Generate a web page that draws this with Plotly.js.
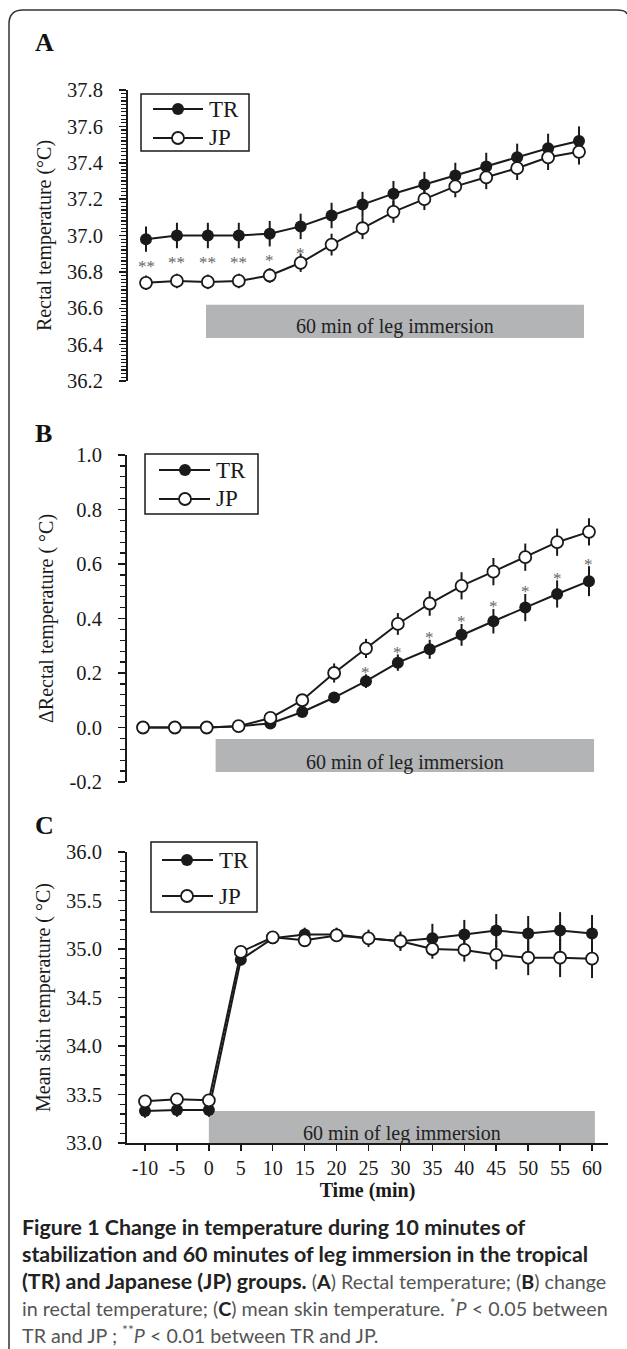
<!DOCTYPE html>
<html>
<head>
<meta charset="utf-8">
<script src="https://cdn.plot.ly/plotly-3.0.1.min.js"></script>
<style>
html,body{margin:0;padding:0;background:#fff;}
#chart{width:627px;height:1349px;}
</style>
</head>
<body>
<div id="chart"></div>
<script>
// ---------- data ----------
const time = [-10, -5, 0, 5, 10, 15, 20, 25, 30, 35, 40, 45, 50, 55, 60];
const seriesNames = ["TR", "JP"];

// Panel A: rectal temperature (°C)
const rectalTR    = [36.98, 37.00, 37.00, 37.00, 37.01, 37.05, 37.11, 37.17, 37.23, 37.28, 37.33, 37.38, 37.43, 37.48, 37.52];
const rectalTRse  = [0.07, 0.07, 0.07, 0.07, 0.07, 0.07, 0.07, 0.07, 0.07, 0.07, 0.07, 0.075, 0.075, 0.08, 0.08];
const rectalJP    = [36.74, 36.75, 36.745, 36.75, 36.78, 36.85, 36.95, 37.04, 37.13, 37.20, 37.27, 37.32, 37.37, 37.43, 37.46];
const rectalJPse  = [0.04, 0.04, 0.04, 0.04, 0.04, 0.05, 0.06, 0.06, 0.06, 0.06, 0.06, 0.065, 0.065, 0.07, 0.07];
const rectalSig   = ["**", "**", "**", "**", "*", "*", "", "", "", "", "", "", "", "", ""];

// Panel B: change in rectal temperature (°C)
const deltaTR     = [0, 0, 0, 0.005, 0.015, 0.057, 0.11, 0.17, 0.238, 0.287, 0.34, 0.39, 0.44, 0.49, 0.537];
const deltaTRse   = [0, 0, 0, 0.005, 0.01, 0.015, 0.02, 0.025, 0.03, 0.035, 0.04, 0.045, 0.05, 0.05, 0.055];
const deltaJP     = [0, 0, 0, 0.005, 0.035, 0.10, 0.20, 0.29, 0.38, 0.455, 0.52, 0.572, 0.625, 0.68, 0.718];
const deltaJPse   = [0, 0, 0, 0.005, 0.01, 0.02, 0.035, 0.035, 0.04, 0.045, 0.05, 0.05, 0.05, 0.05, 0.05];
const deltaSig    = ["", "", "", "", "", "", "", "*", "*", "*", "*", "*", "*", "*", "*"];

// Panel C: mean skin temperature (°C)
const skinTR      = [33.33, 33.34, 33.34, 34.89, 35.11, 35.15, 35.15, 35.11, 35.08, 35.11, 35.15, 35.19, 35.16, 35.19, 35.16];
const skinTRse    = [0.07, 0.07, 0.07, 0.06, 0.05, 0.07, 0.07, 0.09, 0.10, 0.15, 0.15, 0.17, 0.18, 0.19, 0.19];
const skinJP      = [33.43, 33.45, 33.44, 34.97, 35.12, 35.09, 35.14, 35.11, 35.08, 35.00, 34.99, 34.94, 34.91, 34.91, 34.90];
const skinJPse    = [0.05, 0.05, 0.05, 0.05, 0.05, 0.06, 0.06, 0.07, 0.08, 0.10, 0.12, 0.15, 0.18, 0.20, 0.20];

// immersion period
const immersionLabel = "60 min of leg immersion";
const immersionA = [-0.3, 60.8];
const immersionB = [1.4, 60.8];
const immersionC = [0, 60.45];

// tick labels
const tickA = ["36.2", "36.4", "36.6", "36.8", "37.0", "37.2", "37.4", "37.6", "37.8"];
const tickB = ["-0.2", "0.0", "0.2", "0.4", "0.6", "0.8", "1.0"];
const tickC = ["33.0", "33.5", "34.0", "34.5", "35.0", "35.5", "36.0"];
const tickX = ["-10", "-5", "0", "5", "10", "15", "20", "25", "30", "35", "40", "45", "50", "55", "60"];

const panelLetters = ["A", "B", "C"];
const yTitles = ["Rectal temperature (°C)", "ΔRectal temperature ( °C)", "Mean skin temperature ( °C)"];
const xTitle = "Time (min)";

// ---------- layout helpers ----------
const W = 627, H = 1349;
const px = v => v / W;
const py = v => 1 - v / H;
const SERIF = "Liberation Serif, Times New Roman, serif";
const INK = "#1a1a1a";
const BIG = 'font-size:21.4px;color:#222';
const bold = s => '<span style="' + BIG + '"><b>' + s + '</b></span>';
const bl = s => '<span style="color:#222"><b>' + s + '</b></span>';
const captionLines = [
  bold("Figure 1 Change in temperature during 10 minutes of"),
  bold("stabilization and 60 minutes of leg immersion in the tropical"),
  bold("(TR) and Japanese (JP) groups.") + " (" + bl("A") + ") Rectal temperature; (" + bl("B") + ") change",
  "in rectal temperature; (" + bl("C") + ") mean skin temperature. <sup>*</sup><i>P</i> &lt; 0.05 between",
  "TR and JP ; <sup>**</sup><i>P</i> &lt; 0.01 between TR and JP."
];

function mk(x, y, e, name, filled, xa, ya) {
  return {
    x: x, y: y, name: name, type: "scatter", mode: "lines+markers",
    xaxis: xa, yaxis: ya, showlegend: false,
    line: {color: INK, width: 2},
    marker: {symbol: "circle", size: 12, color: filled ? INK : "#ffffff",
             line: {color: INK, width: filled ? 0 : 1.8}},
    error_y: {type: "data", array: e, visible: true, color: INK, thickness: 2, width: 0},
    cliponaxis: false
  };
}

const data = [
  mk(time, rectalTR, rectalTRse, seriesNames[0], true, "x", "y"),
  mk(time, rectalJP, rectalJPse, seriesNames[1], false, "x", "y"),
  mk(time, deltaTR, deltaTRse, seriesNames[0], true, "x2", "y2"),
  mk(time, deltaJP, deltaJPse, seriesNames[1], false, "x2", "y2"),
  mk(time, skinTR, skinTRse, seriesNames[0], true, "x3", "y3"),
  mk(time, skinJP, skinJPse, seriesNames[1], false, "x3", "y3")
];

function yax(domTop, domBot, range, ticks, minorDt, title) {
  const vals = ticks.map(Number);
  return {
    domain: [py(domBot), py(domTop)], range: range, autorange: false,
    tickmode: "array", tickvals: vals, ticktext: ticks,
    showline: true, linecolor: INK, linewidth: 2,
    ticks: "outside", ticklen: 7, tickwidth: 1.5, tickcolor: INK,
    ticklabelstandoff: 12,
    minor: {tickmode: "linear", tick0: range[0], dtick: minorDt, ticks: "outside", ticklen: 5, tickwidth: 1.2, tickcolor: INK, showgrid: false},
    showgrid: false, zeroline: false,
    tickfont: {family: SERIF, size: 20.5, color: INK},
    title: {text: title, font: {family: SERIF, size: 20, color: INK}, standoff: 10}
  };
}
function hiddenX(l, r, range) {
  return {domain: [px(l), px(r)], range: range, autorange: false, visible: false,
          showgrid: false, zeroline: false};
}

const shapes = [];
const annotations = [];

// frame
shapes.push({type: "path", xref: "paper", yref: "paper", layer: "below",
  path: `M ${px(9)},${py(1349)} L ${px(9)},${py(24)} Q ${px(9)},${py(10)} ${px(23)},${py(10)} L ${px(616)},${py(10)} Q ${px(626)},${py(10)} ${px(627)},${py(14)}`,
  line: {color: "#333", width: 1.5}});

// immersion boxes
const boxes = [
  {xr: "x", yr: "y", xs: immersionA, ys: [36.437, 36.619], ty: 36.500},
  {xr: "x2", yr: "y2", xs: immersionB, ys: [-0.163, -0.042], ty: -0.128},
  {xr: "x3", yr: "y3", xs: immersionC, ys: [33.0, 33.33], ty: 33.10}
];
boxes.forEach(b => {
  shapes.push({type: "rect", xref: b.xr, yref: b.yr, x0: b.xs[0], x1: b.xs[1], y0: b.ys[0], y1: b.ys[1],
    fillcolor: "#b3b4b6", line: {width: 0}, layer: "below"});
  annotations.push({xref: b.xr, yref: b.yr, x: (b.xs[0] + b.xs[1]) / 2, y: b.ty, text: immersionLabel,
    showarrow: false, font: {family: SERIF, size: 20, color: "#222"}, xanchor: "center", yanchor: "middle"});
});

// end tick on the time axis
shapes.push({type: "line", xref: "x3", yref: "y3", ysizemode: "pixel", yanchor: 33.0,
  x0: 62.5, x1: 62.5, y0: 0, y1: -6, line: {color: INK, width: 1.5}});

// significance marks
time.forEach((t, i) => {
  if (rectalSig[i]) annotations.push({xref: "x", yref: "y", x: t, y: rectalTR[i], yshift: -27,
    text: rectalSig[i], showarrow: false, font: {family: SERIF, size: 17, color: "#666"}});
  if (deltaSig[i]) annotations.push({xref: "x2", yref: "y2", x: t, y: deltaTR[i] + deltaTRse[i], yshift: 2,
    text: deltaSig[i], showarrow: false, font: {family: SERIF, size: 17, color: "#666"}});
});

// legends (one per panel)
const legends = [
  {box: [141, 249, 94, 151], rows: [109, 138], line: [153, 203], mx: 178, tx: 207},
  {box: [145, 258, 454, 514], rows: [470, 499], line: [159, 210], mx: 185, tx: 214},
  {box: [151, 257, 842, 912], rows: [860, 896], line: [162, 213], mx: 187, tx: 217}
];
legends.forEach(L => {
  shapes.push({type: "rect", xref: "paper", yref: "paper", x0: px(L.box[0]), x1: px(L.box[1]),
    y0: py(L.box[3]), y1: py(L.box[2]), line: {color: INK, width: 1.5}, fillcolor: "#ffffff"});
  L.rows.forEach((ry, k) => {
    shapes.push({type: "line", xref: "paper", yref: "paper", x0: px(L.line[0]), x1: px(L.line[1]),
      y0: py(ry), y1: py(ry), line: {color: INK, width: 2}});
    shapes.push({type: "circle", xref: "paper", yref: "paper", xsizemode: "pixel", ysizemode: "pixel",
      xanchor: px(L.mx), yanchor: py(ry), x0: -6, x1: 6, y0: -6, y1: 6,
      fillcolor: k === 0 ? INK : "#ffffff", line: {color: INK, width: k === 0 ? 0 : 1.8}});
    annotations.push({xref: "paper", yref: "paper", x: px(L.tx), y: py(ry), xanchor: "left", yanchor: "middle",
      text: seriesNames[k], showarrow: false, font: {family: SERIF, size: 23, color: INK}});
  });
});

// panel letters
[43, 434, 825].forEach((yy, i) => annotations.push({xref: "paper", yref: "paper", x: px(33), y: py(yy),
  xanchor: "left", yanchor: "middle", text: "<b>" + panelLetters[i] + "</b>", showarrow: false,
  font: {family: SERIF, size: 26, color: "#111"}}));

// caption
[1227, 1254, 1281, 1307, 1334].forEach((yy, i) => annotations.push({xref: "paper", yref: "paper",
  x: px(20), y: py(yy), xanchor: "left", yanchor: "middle", align: "left", text: captionLines[i],
  showarrow: false, font: {family: "Lato, Open Sans, sans-serif", size: 19.7, color: "#555"}}));

const layout = {
  width: W, height: H, margin: {l: 0, r: 0, t: 0, b: 0},
  paper_bgcolor: "#ffffff", plot_bgcolor: "rgba(0,0,0,0)",
  showlegend: false,
  xaxis: Object.assign(hiddenX(128, 600, [-12.91, 63.39]), {anchor: "y"}),
  xaxis2: Object.assign(hiddenX(127, 600, [-12.51, 61.73]), {anchor: "y2"}),
  xaxis3: {
    anchor: "y3", domain: [px(127), px(608)], range: [-12.82, 62.5], autorange: false,
    tickmode: "array", tickvals: time, ticktext: tickX,
    showline: true, linecolor: INK, linewidth: 2, ticks: "outside", ticklen: 6, tickwidth: 1.5, tickcolor: INK,
    showgrid: false, zeroline: false, tickfont: {family: SERIF, size: 20, color: INK},
    title: {text: "<b>" + xTitle + "</b>", font: {family: SERIF, size: 20, color: INK}, standoff: 0}
  },
  yaxis: Object.assign(yax(90, 381, [36.2, 37.8], tickA, 0.02, yTitles[0]), {anchor: "x"}),
  yaxis2: Object.assign(yax(455, 782, [-0.2, 1.0], tickB, 0.04, yTitles[1]), {anchor: "x2"}),
  yaxis3: Object.assign(yax(852, 1143, [33.0, 36.0], tickC, 0.1, yTitles[2]), {anchor: "x3"}),
  shapes: shapes,
  annotations: annotations
};

Plotly.newPlot("chart", data, layout, {staticPlot: true, displayModeBar: false});
</script>
</body>
</html>
